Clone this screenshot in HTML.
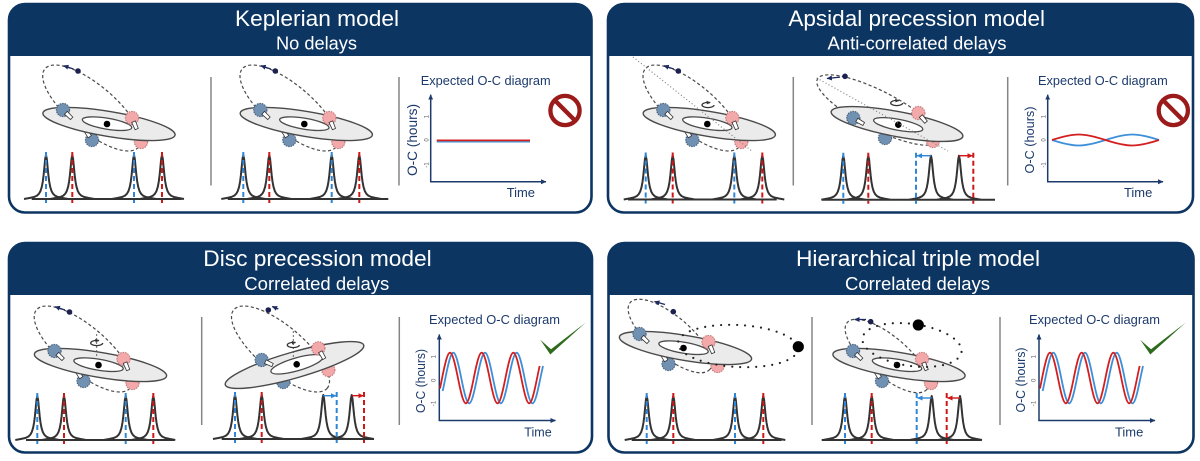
<!DOCTYPE html>
<html><head><meta charset="utf-8"><style>
html,body{margin:0;padding:0;background:#fff;}
svg{display:block;}
</style></head><body>
<svg width="1200" height="461" viewBox="0 0 1200 461" xmlns="http://www.w3.org/2000/svg" xmlns:xlink="http://www.w3.org/1999/xlink" font-family="'Liberation Sans', Arial, sans-serif">
<defs>
 <marker id="mA" markerWidth="6" markerHeight="6" refX="5" refY="3" orient="auto" markerUnits="userSpaceOnUse"><path d="M0,0.5 L5.5,3 L0,5.5 z" fill="#1c3a6c"/></marker>
 <marker id="mN" markerWidth="6" markerHeight="6" refX="5" refY="3" orient="auto" markerUnits="userSpaceOnUse"><path d="M0,0.5 L5.5,3 L0,5.5 z" fill="#1d2a5e"/></marker>
 <marker id="mB" markerWidth="6" markerHeight="6" refX="5" refY="3" orient="auto" markerUnits="userSpaceOnUse"><path d="M0,0.5 L5.5,3 L0,5.5 z" fill="#2e86d6"/></marker>
 <marker id="mR" markerWidth="6" markerHeight="6" refX="5" refY="3" orient="auto" markerUnits="userSpaceOnUse"><path d="M0,0.5 L5.5,3 L0,5.5 z" fill="#cf1717"/></marker>
 <path id="pk" d="M-22,0 L-16,-1.1 L-12,-2 L-9,-3.4 L-7,-5.3 L-5.5,-8 L-4.2,-12.2 L-3.2,-17.5 L-2.4,-23.8 L-1.6,-31.9 L-0.8,-40.2 L0,-44 L0.8,-40.2 L1.6,-31.9 L2.4,-23.8 L3.2,-17.5 L4.2,-12.2 L5.5,-8 L7,-5.3 L9,-3.4 L12,-2 L16,-1.1 L22,0" fill="none" stroke="#333" stroke-width="2" stroke-linejoin="round"/>
 <circle id="sb" r="6.6" fill="#7191b2" stroke="#4b627c" stroke-width="1.1" stroke-dasharray="1.5 1"/>
 <circle id="sp" r="6.6" fill="#f3a8a9" stroke="#c27a7c" stroke-width="1.1" stroke-dasharray="1.5 1"/>
 <path id="bm" d="M4,-2 L12,-1.7 L12,1.7 L4,2 Z" fill="#fff" stroke="#333" stroke-width="0.8"/>
 <g id="rot">
  <ellipse rx="6" ry="2.6" fill="none" stroke="#333" stroke-width="1.3" stroke-dasharray="23 6"/>
  <path d="M-1.5,-4.2 L2.8,-2.4 L-1.2,-0.6 z" fill="#333"/>
 </g>
 <g id="core">
  <use xlink:href="#sb" href="#sb" x="-17" y="16"/>
  <use xlink:href="#bm" href="#bm" transform="translate(-17,16) rotate(236)"/>
  <use xlink:href="#sp" href="#sp" x="32" y="18"/>
  <ellipse rx="67" ry="12.5" transform="rotate(9.5)" fill="#ebebeb" stroke="#4a4a4a" stroke-width="1.4"/>
  <ellipse cx="-2" rx="25" ry="5.5" transform="rotate(9.5)" fill="#fff" stroke="#4a4a4a" stroke-width="1.3"/>
  <circle cx="-2" cy="0" r="3.3" fill="#000"/>
  <use xlink:href="#sb" href="#sb" x="-46" y="-14"/>
  <use xlink:href="#bm" href="#bm" transform="translate(-46,-14) rotate(44)"/>
  <use xlink:href="#sp" href="#sp" x="23" y="-6"/>
  <use xlink:href="#bm" href="#bm" transform="translate(23,-6) rotate(67)"/>
 </g>
 <g id="orbStd">
  <ellipse cx="-17.3" cy="-16" rx="61" ry="23" transform="rotate(40 -17.3 -16)" fill="none" stroke="#4a4a4a" stroke-width="1.2" stroke-dasharray="3.2 2.4"/>
  <circle cx="-31" cy="-53" r="2.8" fill="#1d2150"/>
  <line x1="-35.5" y1="-55" x2="-45.5" y2="-58.3" stroke="#1d2a5e" stroke-width="1.3" marker-end="url(#mN)"/>
 </g>
</defs>

<!-- ================= PANELS ================= -->
<g>
 <rect x="9" y="4" width="582.5" height="208.5" rx="16" fill="#fff"/>
 <path d="M9,56 V20 A16,16 0 0 1 25,4 H575.5 A16,16 0 0 1 591.5,20 V56 Z" fill="#0c3562"/>
 <rect x="608" y="4" width="585" height="208.5" rx="16" fill="#fff"/>
 <path d="M608,56 V20 A16,16 0 0 1 624,4 H1177 A16,16 0 0 1 1193,20 V56 Z" fill="#0c3562"/>
 <rect x="9" y="243" width="583" height="209.5" rx="16" fill="#fff"/>
 <path d="M9,295 V259 A16,16 0 0 1 25,243 H576 A16,16 0 0 1 592,259 V295 Z" fill="#0c3562"/>
 <rect x="608.5" y="243" width="585" height="209.5" rx="16" fill="#fff"/>
 <path d="M608.5,295 V259 A16,16 0 0 1 624.5,243 H1177.5 A16,16 0 0 1 1193.5,259 V295 Z" fill="#0c3562"/>
</g>

<!-- headers -->
<g fill="#fff" text-anchor="middle">
 <text x="317" y="26" font-size="22.6" textLength="164" lengthAdjust="spacingAndGlyphs">Keplerian model</text>
 <text x="316.5" y="49.3" font-size="18.3" textLength="81" lengthAdjust="spacingAndGlyphs">No delays</text>
 <text x="916.7" y="26" font-size="22.6" textLength="256.7" lengthAdjust="spacingAndGlyphs">Apsidal precession model</text>
 <text x="917" y="49.3" font-size="18.3" textLength="179" lengthAdjust="spacingAndGlyphs">Anti-correlated delays</text>
 <text x="317.5" y="266" font-size="22.6" textLength="228.4" lengthAdjust="spacingAndGlyphs">Disc precession model</text>
 <text x="316.8" y="290" font-size="18.3" textLength="145" lengthAdjust="spacingAndGlyphs">Correlated delays</text>
 <text x="918" y="266" font-size="22.6" textLength="244" lengthAdjust="spacingAndGlyphs">Hierarchical triple model</text>
 <text x="917.5" y="290" font-size="18.3" textLength="145" lengthAdjust="spacingAndGlyphs">Correlated delays</text>
</g>

<!-- dividers -->
<g stroke="#858585" stroke-width="1.5">
 <line x1="211" y1="77" x2="211" y2="185.5"/>
 <line x1="399" y1="77" x2="399" y2="185.5"/>
 <line x1="793.3" y1="77" x2="793.3" y2="185.5"/>
 <line x1="1007.7" y1="77" x2="1007.7" y2="185.5"/>
 <line x1="201.7" y1="317" x2="201.7" y2="425"/>
 <line x1="399.3" y1="317" x2="399.3" y2="425"/>
 <line x1="812" y1="317" x2="812" y2="425"/>
 <line x1="1000" y1="317" x2="1000" y2="425"/>
</g>

<!-- ================= SYSTEMS ================= -->
<g transform="translate(109,124)"><use xlink:href="#orbStd" href="#orbStd"/><use xlink:href="#core" href="#core"/></g>
<g transform="translate(306.3,124)"><use xlink:href="#orbStd" href="#orbStd"/><use xlink:href="#core" href="#core"/></g>
<g transform="translate(709.3,124)"><use xlink:href="#orbStd" href="#orbStd"/><use xlink:href="#core" href="#core"/></g>
<use xlink:href="#rot" href="#rot" x="708" y="105"/>
<line x1="633" y1="57" x2="753" y2="152" stroke="#777" stroke-width="1.1" stroke-dasharray="1 2.4"/>
<g transform="translate(897,124)">
 <ellipse cx="-19" cy="-14" rx="68" ry="19" transform="rotate(27 -19 -14)" fill="none" stroke="#4a4a4a" stroke-width="1.2" stroke-dasharray="3.2 2.4"/>
 <circle cx="-52" cy="-47.7" r="2.8" fill="#1d2150"/>
 <line x1="-57" y1="-46.9" x2="-70" y2="-45.5" stroke="#1d2a5e" stroke-width="1.3" marker-end="url(#mN)"/>
 <use xlink:href="#sb" href="#sb" x="-12" y="14"/>
 <use xlink:href="#sp" href="#sp" x="36" y="17"/>
 <ellipse rx="67" ry="12.5" transform="rotate(10.7)" fill="#ebebeb" stroke="#4a4a4a" stroke-width="1.4"/>
 <ellipse cx="1.3" cy="0.5" rx="25" ry="5.5" transform="rotate(10.7)" fill="#fff" stroke="#4a4a4a" stroke-width="1.3"/>
 <circle cx="1.3" cy="0.7" r="3.3" fill="#000"/>
 <use xlink:href="#sb" href="#sb" x="-43.7" y="-6"/>
 <use xlink:href="#bm" href="#bm" transform="translate(-43.7,-6) rotate(30)"/>
 <use xlink:href="#sp" href="#sp" x="21.3" y="-11"/>
 <use xlink:href="#bm" href="#bm" transform="translate(21.3,-11) rotate(50)"/>
</g>
<use xlink:href="#rot" href="#rot" x="896.7" y="103"/>
<line x1="816.7" y1="78" x2="948" y2="151" stroke="#777" stroke-width="1.1" stroke-dasharray="1 2.4"/>

<g transform="translate(100.5,365)"><use xlink:href="#orbStd" href="#orbStd"/><use xlink:href="#core" href="#core"/></g>
<line x1="96.7" y1="334" x2="96.7" y2="358" stroke="#555" stroke-width="0.9" stroke-dasharray="2 2"/>
<use xlink:href="#rot" href="#rot" x="96.7" y="343"/>
<g transform="translate(294.5,365)">
 <ellipse cx="-14" cy="-16" rx="61" ry="23" transform="rotate(40 -14 -16)" fill="none" stroke="#4a4a4a" stroke-width="1.2" stroke-dasharray="3.2 2.4"/>
 <circle cx="-26.2" cy="-55" r="2.8" fill="#1d2150"/>
 <line x1="-16.2" y1="-56" x2="-22.3" y2="-58.5" stroke="#1d2a5e" stroke-width="1.3" marker-end="url(#mN)"/>
 <use xlink:href="#sb" href="#sb" x="-11.2" y="17"/>
 <use xlink:href="#sp" href="#sp" x="33.8" y="5"/>
 <ellipse rx="72" ry="13" transform="rotate(-16)" fill="#ebebeb" stroke="#4a4a4a" stroke-width="1.4"/>
 <ellipse cx="2.5" cy="0" rx="27" ry="6.5" transform="rotate(-16)" fill="#fff" stroke="#4a4a4a" stroke-width="1.3"/>
 <circle cx="2.2" cy="-0.7" r="3.3" fill="#000"/>
 <line x1="-1.2" y1="-34" x2="-1.2" y2="-6" stroke="#555" stroke-width="0.9" stroke-dasharray="2 2"/>
 <use xlink:href="#sb" href="#sb" x="-32.8" y="-5"/>
 <use xlink:href="#bm" href="#bm" transform="translate(-32.8,-5) rotate(25)"/>
 <use xlink:href="#sp" href="#sp" x="23.8" y="-16.7"/>
 <use xlink:href="#bm" href="#bm" transform="translate(23.8,-16.7) rotate(60)"/>
</g>
<use xlink:href="#rot" href="#rot" x="293.3" y="345"/>

<g transform="translate(685.5,348)">
 <ellipse cx="-15.5" cy="-12" rx="52" ry="20" transform="rotate(40 -15.5 -12)" fill="none" stroke="#4a4a4a" stroke-width="1.2" stroke-dasharray="3.2 2.4"/>
 <circle cx="-12.2" cy="-36.3" r="2.8" fill="#1d2150"/>
 <line x1="-20.5" y1="-43.5" x2="-31" y2="-46.5" stroke="#1d2a5e" stroke-width="1.3" marker-end="url(#mN)"/>
 <use xlink:href="#core" href="#core"/>
</g>
<ellipse cx="738" cy="346" rx="60" ry="21" transform="rotate(3 738 346)" fill="none" stroke="#222" stroke-width="2.2" stroke-linecap="round" stroke-dasharray="0 8"/>
<circle cx="798.3" cy="346.7" r="5.6" fill="#000"/>
<g transform="translate(899,365)">
 <ellipse cx="-12" cy="-9" rx="52" ry="20" transform="rotate(40 -12 -9)" fill="none" stroke="#4a4a4a" stroke-width="1.2" stroke-dasharray="3.2 2.4"/>
 <circle cx="-28.3" cy="-43.3" r="2.8" fill="#1d2150"/>
 <line x1="-33" y1="-45.5" x2="-44.5" y2="-45.5" stroke="#1d2a5e" stroke-width="1.3" marker-end="url(#mN)"/>
 <use xlink:href="#core" href="#core"/>
</g>
<ellipse cx="912" cy="345" rx="50" ry="21" transform="rotate(8 912 345)" fill="none" stroke="#222" stroke-width="2.2" stroke-linecap="round" stroke-dasharray="0 8"/>
<circle cx="918.3" cy="325" r="5.6" fill="#000"/>

<!-- ================= SPECTRA ================= -->
<g stroke="#333" stroke-width="2" fill="none">
 <line x1="31.7" y1="199" x2="181.7" y2="199"/>
 <line x1="227.7" y1="199" x2="388.3" y2="199"/>
 <line x1="628" y1="199.5" x2="776.7" y2="199.5"/>
 <line x1="821.7" y1="199.7" x2="995" y2="199.7"/>
 <line x1="26" y1="440" x2="174" y2="440"/>
 <line x1="221.7" y1="439" x2="374" y2="439"/>
 <line x1="631.7" y1="440" x2="781.7" y2="440"/>
 <line x1="821.7" y1="440" x2="981.7" y2="440"/>
</g>
<g>
 <use xlink:href="#pk" href="#pk" x="46" y="199"/><use xlink:href="#pk" href="#pk" x="72.3" y="199"/><use xlink:href="#pk" href="#pk" x="134" y="199"/><use xlink:href="#pk" href="#pk" x="162" y="199"/>
 <use xlink:href="#pk" href="#pk" x="243.3" y="199"/><use xlink:href="#pk" href="#pk" x="269.3" y="199"/><use xlink:href="#pk" href="#pk" x="331.7" y="199"/><use xlink:href="#pk" href="#pk" x="359.3" y="199"/>
 <use xlink:href="#pk" href="#pk" x="645.7" y="199.5"/><use xlink:href="#pk" href="#pk" x="672.7" y="199.5"/><use xlink:href="#pk" href="#pk" x="734.3" y="199.5"/><use xlink:href="#pk" href="#pk" x="762.3" y="199.5"/>
 <use xlink:href="#pk" href="#pk" x="843.3" y="199.7"/><use xlink:href="#pk" href="#pk" x="868.3" y="199.7"/><use xlink:href="#pk" href="#pk" x="931" y="199.7"/><use xlink:href="#pk" href="#pk" x="959" y="199.7"/>
 <use xlink:href="#pk" href="#pk" x="37.3" y="440"/><use xlink:href="#pk" href="#pk" x="64" y="440"/><use xlink:href="#pk" href="#pk" x="125.7" y="440"/><use xlink:href="#pk" href="#pk" x="153.3" y="440"/>
 <use xlink:href="#pk" href="#pk" x="235" y="439"/><use xlink:href="#pk" href="#pk" x="261.7" y="439"/><use xlink:href="#pk" href="#pk" x="323.3" y="439"/><use xlink:href="#pk" href="#pk" x="351.7" y="439"/>
 <use xlink:href="#pk" href="#pk" x="646.7" y="440"/><use xlink:href="#pk" href="#pk" x="673.3" y="440"/><use xlink:href="#pk" href="#pk" x="735" y="440"/><use xlink:href="#pk" href="#pk" x="763.3" y="440"/>
 <use xlink:href="#pk" href="#pk" x="845" y="440"/><use xlink:href="#pk" href="#pk" x="871.7" y="440"/><use xlink:href="#pk" href="#pk" x="931.7" y="440"/><use xlink:href="#pk" href="#pk" x="960" y="440"/>
</g>
<g stroke="#2e86d6" stroke-width="2" stroke-dasharray="5 3">
 <line x1="46" y1="152" x2="46" y2="203"/><line x1="134" y1="152" x2="134" y2="203"/>
 <line x1="243.3" y1="152" x2="243.3" y2="203"/><line x1="331.7" y1="152" x2="331.7" y2="203"/>
 <line x1="645.7" y1="152.5" x2="645.7" y2="203.5"/><line x1="734.3" y1="152.5" x2="734.3" y2="203.5"/>
 <line x1="843.3" y1="152.7" x2="843.3" y2="203.7"/><line x1="916" y1="152.7" x2="916" y2="203.7"/>
 <line x1="37.3" y1="393" x2="37.3" y2="444"/><line x1="125.7" y1="393" x2="125.7" y2="444"/>
 <line x1="235" y1="392" x2="235" y2="443"/><line x1="336.7" y1="392" x2="336.7" y2="443"/>
 <line x1="646.7" y1="393" x2="646.7" y2="444"/><line x1="735" y1="393" x2="735" y2="444"/>
 <line x1="845" y1="393" x2="845" y2="444"/><line x1="916.7" y1="393" x2="916.7" y2="444"/>
</g>
<g stroke="#cf1717" stroke-width="2" stroke-dasharray="5 3">
 <line x1="72.3" y1="152" x2="72.3" y2="203"/><line x1="162" y1="152" x2="162" y2="203"/>
 <line x1="269.3" y1="152" x2="269.3" y2="203"/><line x1="359.3" y1="152" x2="359.3" y2="203"/>
 <line x1="672.7" y1="152.5" x2="672.7" y2="203.5"/><line x1="762.3" y1="152.5" x2="762.3" y2="203.5"/>
 <line x1="868.3" y1="152.7" x2="868.3" y2="203.7"/><line x1="973.3" y1="152.7" x2="973.3" y2="203.7"/>
 <line x1="64" y1="393" x2="64" y2="444"/><line x1="153.3" y1="393" x2="153.3" y2="444"/>
 <line x1="261.7" y1="392" x2="261.7" y2="443"/><line x1="364" y1="392" x2="364" y2="443"/>
 <line x1="673.3" y1="393" x2="673.3" y2="444"/><line x1="763.3" y1="393" x2="763.3" y2="444"/>
 <line x1="871.7" y1="393" x2="871.7" y2="444"/><line x1="946.7" y1="393" x2="946.7" y2="444"/>
</g>
<g stroke-width="1.4">
 <line x1="931" y1="155.7" x2="917" y2="155.7" stroke="#2e86d6" marker-end="url(#mB)"/>
 <line x1="959" y1="155.7" x2="972.5" y2="155.7" stroke="#cf1717" marker-end="url(#mR)"/>
 <line x1="323.3" y1="395.7" x2="336" y2="395.7" stroke="#2e86d6" marker-end="url(#mB)"/>
 <line x1="351.7" y1="395.7" x2="363.3" y2="395.7" stroke="#cf1717" marker-end="url(#mR)"/>
 <line x1="931.7" y1="398" x2="917.5" y2="398" stroke="#2e86d6" marker-end="url(#mB)"/>
 <line x1="960" y1="398" x2="947.5" y2="398" stroke="#cf1717" marker-end="url(#mR)"/>
</g>

<!-- ================= O-C CHARTS ================= -->
<g fill="#1c3a6c">
 <text x="420.7" y="85" font-size="12.8" textLength="130" lengthAdjust="spacingAndGlyphs">Expected O-C diagram</text>
 <text x="1038" y="85" font-size="12.8" textLength="129.7" lengthAdjust="spacingAndGlyphs">Expected O-C diagram</text>
 <text x="429" y="324" font-size="12.8" textLength="131" lengthAdjust="spacingAndGlyphs">Expected O-C diagram</text>
 <text x="1029" y="324" font-size="12.8" textLength="131" lengthAdjust="spacingAndGlyphs">Expected O-C diagram</text>
 <text x="506.7" y="197" font-size="13" textLength="28.3" lengthAdjust="spacingAndGlyphs">Time</text>
 <text x="1124" y="197" font-size="13" textLength="28.3" lengthAdjust="spacingAndGlyphs">Time</text>
 <text x="524.3" y="436.7" font-size="13" textLength="27.4" lengthAdjust="spacingAndGlyphs">Time</text>
 <text x="1115" y="436.7" font-size="13" textLength="28.3" lengthAdjust="spacingAndGlyphs">Time</text>
 <text transform="translate(412.3,140) rotate(-90)" y="4.6" font-size="13.5" text-anchor="middle" textLength="72" lengthAdjust="spacingAndGlyphs">O-C (hours)</text>
 <text transform="translate(1029.3,140) rotate(-90)" y="4.6" font-size="13" text-anchor="middle" textLength="67" lengthAdjust="spacingAndGlyphs">O-C (hours)</text>
 <text transform="translate(420.7,381) rotate(-90)" y="4.5" font-size="12.5" text-anchor="middle" textLength="64" lengthAdjust="spacingAndGlyphs">O-C (hours)</text>
 <text transform="translate(1020.7,380) rotate(-90)" y="4.5" font-size="12.5" text-anchor="middle" textLength="65" lengthAdjust="spacingAndGlyphs">O-C (hours)</text>
</g>
<g fill="#555" font-size="6" text-anchor="middle">
 <text transform="translate(428.7,116.7) rotate(-90)">1</text>
 <text transform="translate(428.7,140) rotate(-90)">0</text>
 <text transform="translate(428.7,165) rotate(-90)">-1</text>
 <text transform="translate(1045.7,116.7) rotate(-90)">1</text>
 <text transform="translate(1045.7,140) rotate(-90)">0</text>
 <text transform="translate(1045.7,165) rotate(-90)">-1</text>
 <text transform="translate(435.3,356.7) rotate(-90)">1</text>
 <text transform="translate(435.3,380.3) rotate(-90)">0</text>
 <text transform="translate(435.3,403.5) rotate(-90)">-1</text>
 <text transform="translate(1035.3,356.7) rotate(-90)">1</text>
 <text transform="translate(1035.3,380.3) rotate(-90)">0</text>
 <text transform="translate(1035.3,403.5) rotate(-90)">-1</text>
</g>
<g stroke="#1c3a6c" stroke-width="1.5" fill="none">
 <line x1="430.7" y1="181.7" x2="430.7" y2="94.7" marker-end="url(#mA)"/>
 <line x1="430" y1="181.7" x2="546" y2="181.7" marker-end="url(#mA)"/>
 <line x1="1047.7" y1="181.7" x2="1047.7" y2="94.7" marker-end="url(#mA)"/>
 <line x1="1047" y1="181.7" x2="1163" y2="181.7" marker-end="url(#mA)"/>
 <line x1="439.3" y1="420.5" x2="439.3" y2="334.5" marker-end="url(#mA)"/>
 <line x1="438.6" y1="420.5" x2="555.5" y2="420.5" marker-end="url(#mA)"/>
 <line x1="1039" y1="420.5" x2="1039" y2="334.5" marker-end="url(#mA)"/>
 <line x1="1038.3" y1="420.5" x2="1155" y2="420.5" marker-end="url(#mA)"/>
</g>
<g fill="none" stroke-width="1.8">
 <line x1="436.7" y1="141.8" x2="530" y2="141.8" stroke="#3d8fd9" stroke-width="1.3"/>
 <line x1="436.7" y1="140.4" x2="530" y2="140.4" stroke="#d31f1f" stroke-width="1.7"/>
 <path d="M1052,140 C1074.7,147.33 1082.8,147.33 1105.5,140 C1128.2,132.67 1136.3,132.67 1159,140" stroke="#3d8fd9"/>
 <path d="M1052,140 C1074.7,132.67 1082.8,132.67 1105.5,140 C1128.2,147.33 1136.3,147.33 1159,140" stroke="#d31f1f"/>
 <path d="M442.7,391 L445.4,378 C452.12,344.27 454.52,344.27 461.24,378 C467.96,411.73 470.35,411.73 477.07,378 C483.79,344.27 486.19,344.27 492.91,378 C499.63,411.73 502.02,411.73 508.74,378 C515.46,344.27 517.86,344.27 524.58,378 C531.3,411.73 533.69,411.73 540.41,378 L543,366" stroke="#3d8fd9"/>
 <path d="M440,388.5 L442.1,378 C448.82,344.27 451.22,344.27 457.94,378 C464.66,411.73 467.05,411.73 473.77,378 C480.49,344.27 482.89,344.27 489.61,378 C496.33,411.73 498.72,411.73 505.44,378 C512.16,344.27 514.56,344.27 521.28,378 C528,411.73 530.39,411.73 537.11,378 L539.6,366" stroke="#d31f1f"/>
 <path d="M1042.7,391 L1045.4,378 C1052.12,344.27 1054.52,344.27 1061.24,378 C1067.96,411.73 1070.35,411.73 1077.07,378 C1083.79,344.27 1086.19,344.27 1092.91,378 C1099.63,411.73 1102.02,411.73 1108.74,378 C1115.46,344.27 1117.86,344.27 1124.58,378 C1131.3,411.73 1133.69,411.73 1140.41,378 L1143,366" stroke="#3d8fd9"/>
 <path d="M1040,388.5 L1042.1,378 C1048.82,344.27 1051.22,344.27 1057.94,378 C1064.66,411.73 1067.05,411.73 1073.77,378 C1080.49,344.27 1082.89,344.27 1089.61,378 C1096.33,411.73 1098.72,411.73 1105.44,378 C1112.16,344.27 1114.56,344.27 1121.28,378 C1128,411.73 1130.39,411.73 1137.11,378 L1139.6,366" stroke="#d31f1f"/>
</g>
<g stroke="#9b1a1a" stroke-width="4.3" fill="none">
 <circle cx="565" cy="110.5" r="14.6"/>
 <line x1="554.7" y1="100.2" x2="575.3" y2="120.8"/>
 <circle cx="1173.3" cy="110.5" r="14.6"/>
 <line x1="1163" y1="100.2" x2="1183.6" y2="120.8"/>
</g>
<g fill="#2e6b1e">
 <polygon points="540.3,339.8 551,349.3 585.6,322.6 550.3,354.5"/>
 <polygon points="1140.3,339.8 1151,349.3 1185.6,322.6 1150.3,354.5"/>
</g>

<g fill="none" stroke="#0c3562" stroke-width="2.6">
 <rect x="9" y="4" width="582.5" height="208.5" rx="16"/>
 <rect x="608" y="4" width="585" height="208.5" rx="16"/>
 <rect x="9" y="243" width="583" height="209.5" rx="16"/>
 <rect x="608.5" y="243" width="585" height="209.5" rx="16"/>
</g>
</svg>
</body></html>
